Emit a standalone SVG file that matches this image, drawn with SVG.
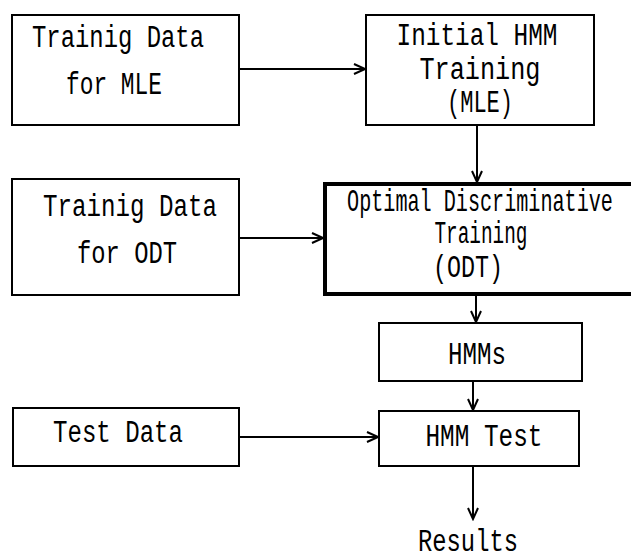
<svg xmlns="http://www.w3.org/2000/svg" width="631" height="559" viewBox="0 0 631 559">
  <style>
    .box { fill: #ffffff; stroke: #000000; stroke-width: 2; }
    .thick { fill: #ffffff; stroke: #000000; stroke-width: 4; }
    .lbl { font-family: "Liberation Mono", "DejaVu Sans Mono", monospace; font-size: 31px; fill: #000000; text-anchor: middle; }
    .wire { fill: none; stroke: #000000; stroke-width: 2; }
  </style>
  <defs>
    <marker id="open-arrow" markerUnits="userSpaceOnUse" markerWidth="14" markerHeight="14" refX="12" refY="6" orient="auto">
      <path d="M1,1 L12,6 L1,11" fill="none" stroke="#000000" stroke-width="2"/>
    </marker>
  </defs>
  <rect width="631" height="559" fill="#ffffff"/>

  <g id="train-mle-data">
    <rect class="box" x="12" y="15" width="227" height="110"/>
    <text class="lbl" x="118" y="47" textLength="172" lengthAdjust="spacingAndGlyphs">Trainig Data</text>
    <text class="lbl" x="114" y="94" textLength="96" lengthAdjust="spacingAndGlyphs">for MLE</text>
  </g>

  <g id="initial-hmm-training">
    <rect class="box" x="366" y="15" width="228" height="110"/>
    <text class="lbl" x="477" y="45" textLength="161" lengthAdjust="spacingAndGlyphs">Initial HMM</text>
    <text class="lbl" x="480" y="79" textLength="121" lengthAdjust="spacingAndGlyphs">Training</text>
    <text class="lbl" x="480" y="112" textLength="66" lengthAdjust="spacingAndGlyphs">(MLE)</text>
  </g>

  <g id="train-odt-data">
    <rect class="box" x="12" y="179" width="227" height="116"/>
    <text class="lbl" x="130" y="216" textLength="174" lengthAdjust="spacingAndGlyphs">Trainig Data</text>
    <text class="lbl" x="127" y="263" textLength="100" lengthAdjust="spacingAndGlyphs">for ODT</text>
  </g>

  <g id="odt-training">
    <rect class="thick" x="325" y="184" width="310" height="110"/>
    <!-- long title: glyphs narrowed by a horizontal scale -->
    <text class="lbl" transform="translate(480 211) scale(0.65 1)" x="0" y="0">Optimal Discriminative</text>
    <text class="lbl" x="481" y="243" textLength="93" lengthAdjust="spacingAndGlyphs">Training</text>
    <text class="lbl" x="468" y="277" textLength="70" lengthAdjust="spacingAndGlyphs">(ODT)</text>
  </g>

  <g id="hmms">
    <rect class="box" x="379" y="323" width="203" height="58"/>
    <text class="lbl" x="477" y="364" textLength="58" lengthAdjust="spacingAndGlyphs">HMMs</text>
  </g>

  <g id="test-data">
    <rect class="box" x="13" y="408" width="226" height="58"/>
    <text class="lbl" x="118" y="442" textLength="130" lengthAdjust="spacingAndGlyphs">Test Data</text>
  </g>

  <g id="hmm-test">
    <rect class="box" x="379" y="411" width="200" height="55"/>
    <text class="lbl" x="484" y="446" textLength="117" lengthAdjust="spacingAndGlyphs">HMM Test</text>
  </g>

  <g id="results">
    <text class="lbl" x="468" y="551" textLength="100" lengthAdjust="spacingAndGlyphs">Results</text>
  </g>

  <g id="connectors">
    <line class="wire" x1="239" y1="69" x2="365" y2="69" marker-end="url(#open-arrow)"/>
    <line class="wire" x1="477" y1="125" x2="477" y2="182" marker-end="url(#open-arrow)"/>
    <line class="wire" x1="239" y1="238" x2="323" y2="238" marker-end="url(#open-arrow)"/>
    <line class="wire" x1="476" y1="296" x2="476" y2="322" marker-end="url(#open-arrow)"/>
    <line class="wire" x1="473" y1="381" x2="473" y2="410" marker-end="url(#open-arrow)"/>
    <line class="wire" x1="239" y1="437" x2="378" y2="437" marker-end="url(#open-arrow)"/>
    <line class="wire" x1="473" y1="466" x2="473" y2="519" marker-end="url(#open-arrow)"/>
  </g>
</svg>
